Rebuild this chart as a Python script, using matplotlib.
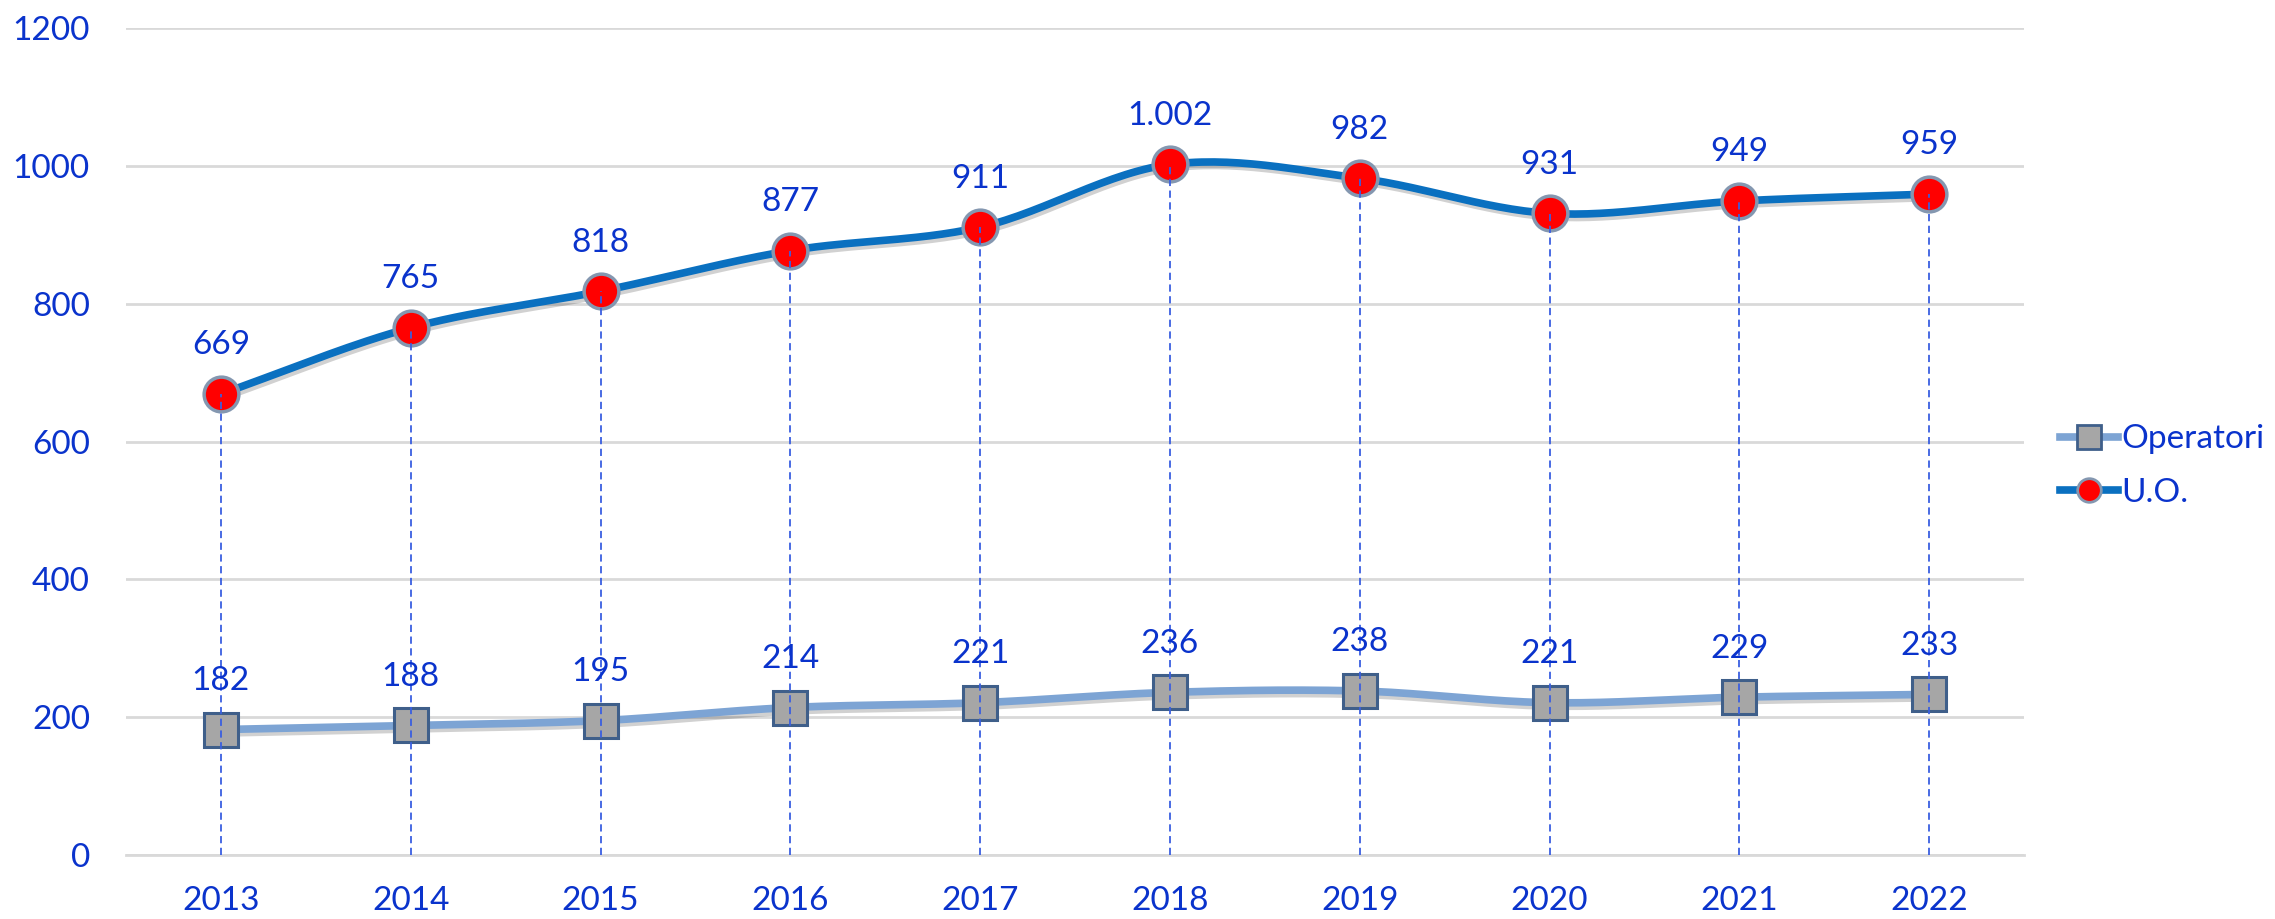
import numpy as np
import matplotlib
matplotlib.use("Agg")
import matplotlib.pyplot as plt
from matplotlib.lines import Line2D
import matplotlib.patheffects as pe

years = ["2013", "2014", "2015", "2016", "2017", "2018", "2019", "2020", "2021", "2022"]
operatori = [182, 188, 195, 214, 221, 236, 238, 221, 229, 233]
uo = [669, 765, 818, 877, 911, 1002, 982, 931, 949, 959]
uo_labels = ["669", "765", "818", "877", "911", "1.002", "982", "931", "949", "959"]
op_labels = [str(v) for v in operatori]
yticks = [0, 200, 400, 600, 800, 1000, 1200]

TXT = "#0A33CC"
FS = 24
plt.rcParams['font.family'] = ['Lato', 'DejaVu Sans']


def smooth(x, y, n=30, t=0.5):
    x = np.asarray(x, float); y = np.asarray(y, float)
    P = np.column_stack([x, y])
    P = np.vstack([P[0] - (P[1] - P[0]), P, P[-1] + (P[-1] - P[-2])])
    out = []
    for i in range(1, len(P) - 2):
        p0, p1, p2, p3 = P[i - 1], P[i], P[i + 1], P[i + 2]
        m1 = t * (p2 - p0)
        m2 = t * (p3 - p1)
        s = np.linspace(0, 1, n, endpoint=(i == len(P) - 3))[:, None]
        h00 = 2 * s**3 - 3 * s**2 + 1
        h10 = s**3 - 2 * s**2 + s
        h01 = -2 * s**3 + 3 * s**2
        h11 = s**3 - s**2
        out.append(h00 * p1 + h10 * m1 + h01 * p2 + h11 * m2)
    out = np.vstack(out)
    return out[:, 0], out[:, 1]


fig = plt.figure(figsize=(22.75, 9.19), dpi=100)
ax = fig.add_axes([126 / 2275, 1 - 855 / 919, (2024 - 126) / 2275, (855 - 28) / 919])

x = np.arange(len(years))
ax.set_xlim(-0.5, len(years) - 0.5)
ax.set_ylim(0, 1200)
ax.set_yticks(yticks)
ax.set_xticks(x)
ax.set_xticklabels(years)
ax.grid(axis='y', color='#D9D9D9', lw=2)
ax.set_axisbelow(True)
for s in ['left', 'right', 'top']:
    ax.spines[s].set_visible(False)
ax.spines['bottom'].set_color('#D9D9D9')
ax.spines['bottom'].set_linewidth(2)
ax.tick_params(axis='both', length=0, labelsize=FS, labelcolor=TXT)
ax.tick_params(axis='y', pad=26)
ax.tick_params(axis='x', pad=22)

shadow = [pe.SimpleLineShadow(offset=(1.5, -2.5), shadow_color='#000000', alpha=0.18), pe.Normal()]

OP_LINE = '#7DA4D4'
UO_LINE = '#0A70C0'

sx, sy = smooth(x, operatori)
ax.plot(sx, sy, color=OP_LINE, lw=5.5, solid_capstyle='round', path_effects=shadow, zorder=3)
sx, sy = smooth(x, uo)
ax.plot(sx, sy, color=UO_LINE, lw=5.5, solid_capstyle='round', path_effects=shadow, zorder=3)

ax.plot(x, operatori, ls='none', marker='s', ms=25, mfc='#A6A6A6', mec='#3F5F8A', mew=2.2, zorder=4)
ax.plot(x, uo, ls='none', marker='o', ms=25, mfc='#FF0000', mec='#8497B0', mew=2.5, zorder=4)

ax.vlines(x, 0, uo, colors='#3A5FE0', linestyles=(0, (4, 2.5)), lw=1.3, zorder=6)

for xi, v, lab in zip(x, uo, uo_labels):
    ax.annotate(lab, (xi, v), xytext=(0, 35), textcoords='offset points', ha='center', va='center',
                fontsize=FS, color=TXT, zorder=7)
for xi, v, lab in zip(x, operatori, op_labels):
    ax.annotate(lab, (xi, v), xytext=(0, 35), textcoords='offset points', ha='center', va='center',
                fontsize=FS, color=TXT, zorder=7)

h1 = Line2D([], [], color=OP_LINE, lw=5.5, marker='s', ms=17, mfc='#A6A6A6', mec='#3F5F8A', mew=2)
h2 = Line2D([], [], color=UO_LINE, lw=5.5, marker='o', ms=17, mfc='#FF0000', mec='#8497B0', mew=2)
leg = fig.legend([h1, h2], ['Operatori', 'U.O.'], loc='center left', bbox_to_anchor=(2060 / 2275, 1 - 466 / 919),
                 frameon=False, fontsize=FS, handlelength=1.75, handletextpad=0.1, labelspacing=0.7,
                 borderaxespad=0, borderpad=0)
for t in leg.get_texts():
    t.set_color(TXT)

fig.savefig('out.png', dpi=100)
